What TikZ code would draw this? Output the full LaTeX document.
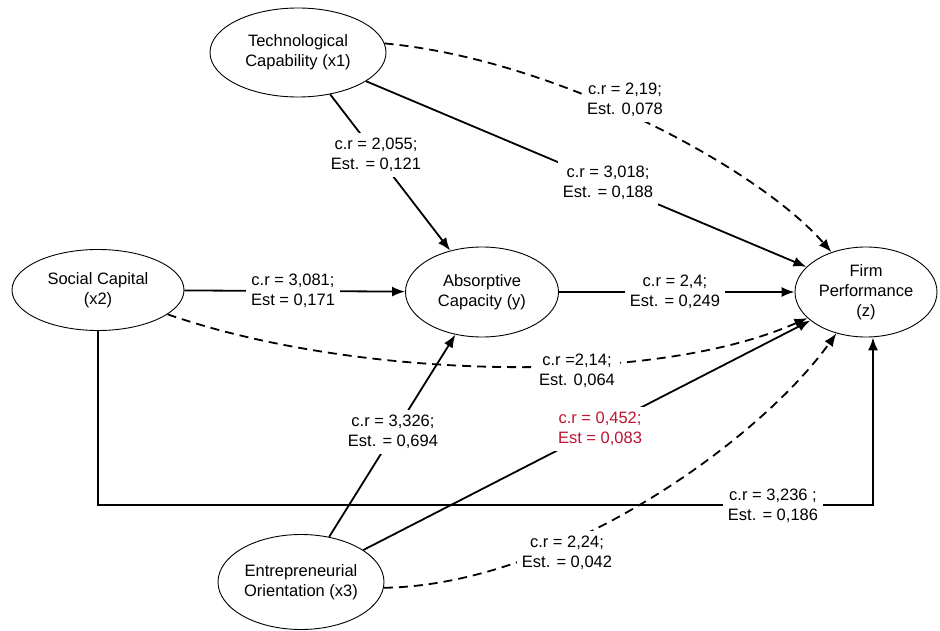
\documentclass[tikz,border=0pt]{standalone}
\usepackage{fontspec}
\setmainfont{Liberation Sans}
\usetikzlibrary{shapes.geometric,arrows.meta}
\definecolor{lblred}{RGB}{190,20,50}
\begin{document}
\begin{tikzpicture}[x=1pt,y=-1pt,
  every node/.style={font=\fontsize{16.5}{20}\selectfont, align=center},
  var/.style={ellipse, draw, line width=0.9pt, inner sep=0pt},
  lbl/.style={fill=white, inner sep=5pt},
  edge/.style={line width=1.8pt, -{Latex[length=13pt,width=10pt]}},
  dedge/.style={edge, dash pattern=on 9pt off 6pt}]
\useasboundingbox (0,0) rectangle (940,631);
% variables
\node[var, minimum width=176pt, minimum height=89pt] (tc) at (298,52.5) {Technological\\Capability (x1)};
\node[var, minimum width=172pt, minimum height=81pt] (sc) at (98,290) {Social Capital\\(x2)};
\node[var, minimum width=153pt, minimum height=90pt] (ac) at (482,292) {Absorptive\\Capacity (y)};
\node[var, minimum width=142pt, minimum height=90pt] (fp) at (866,292) {Firm\\Performance\\(z)};
\node[var, minimum width=166pt, minimum height=95pt] (eo) at (301,582) {Entrepreneurial\\Orientation (x3)};
% connectors
\draw[dedge] (tc.6) .. controls (560,60) and (760,170) .. (fp);
\draw[edge] (tc) -- (fp);
\draw[edge] (tc) -- (ac);
\draw[edge] (sc) -- (ac);
\draw[edge] (ac) -- (fp);
\draw[dedge] (sc) .. controls (350,378) and (650,388) .. (fp);
\draw[edge] (eo) -- (ac);
\draw[edge] (eo) -- (fp);
\coordinate (c1) at (98,505);
\coordinate (c2) at (873,505);
\draw[edge] (sc.south) -- (c1) -- (c2) -- (fp.south -| c2);
\draw[dedge] (eo.-4) .. controls (560,585) and (760,440) .. (fp);
% labels
\node[lbl] (l1) at (625,100) {c.r = 2,19;\\Est. 0,078};
\node[lbl] (l2) at (608,183) {c.r = 3,018;\\Est. = 0,188};
\node[lbl] (l3) at (376,155) {c.r = 2,055;\\Est. = 0,121};
\node[lbl] (l4) at (293,291) {c.r = 3,081;\\Est = 0,171};
\node[lbl] (l5) at (675,292) {c.r = 2,4;\\Est. = 0,249};
\node[lbl] (l6) at (577,371) {c.r =2,14;\\Est. 0,064};
\node[lbl] (l7) at (393,432) {c.r = 3,326;\\Est. = 0,694};
\node[lbl, text=lblred] (l8) at (600,429) {c.r = 0,452;\\Est = 0,083};
\node[lbl] (l9) at (773,506) {c.r = 3,236 ;\\Est. = 0,186};
\node[lbl] (l10) at (567,553) {c.r = 2,24;\\Est. = 0,042};
\end{tikzpicture}
\end{document}
